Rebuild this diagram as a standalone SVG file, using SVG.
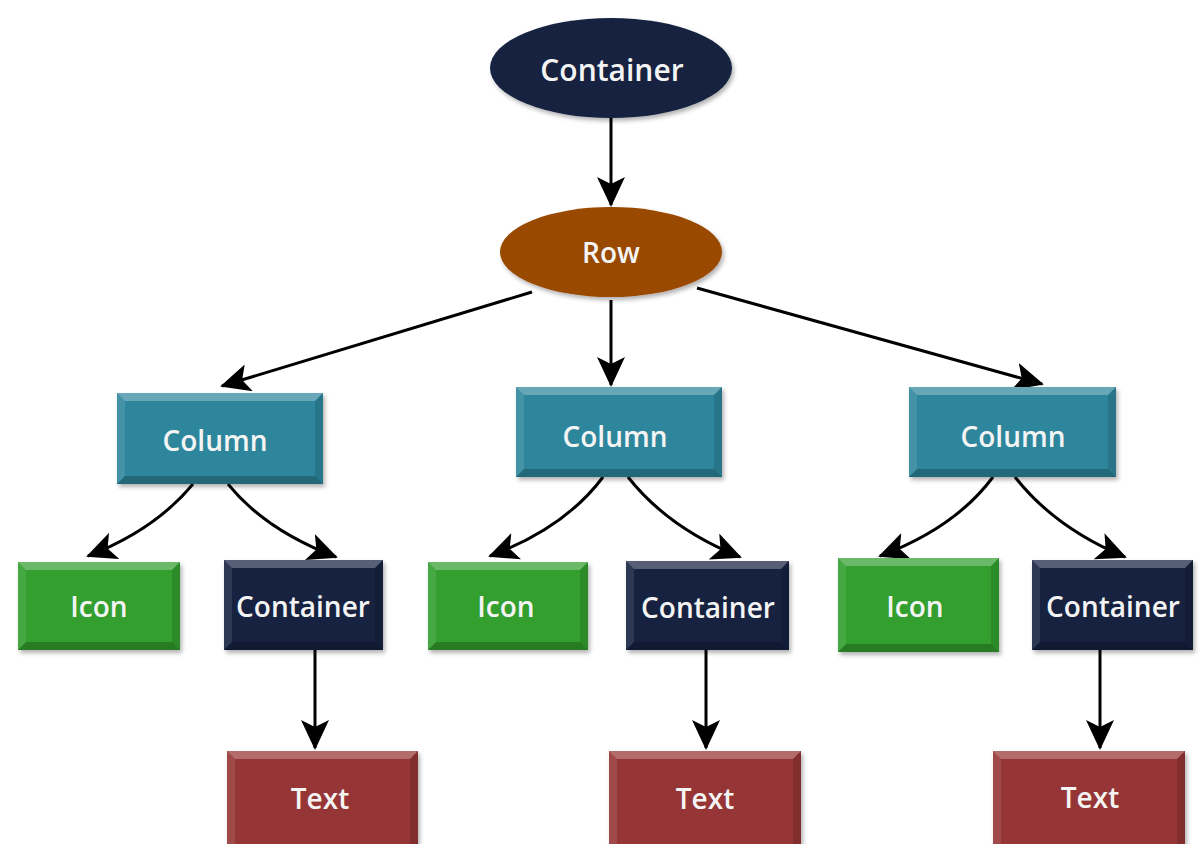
<svg xmlns="http://www.w3.org/2000/svg" width="1199" height="844" viewBox="0 0 1199 844">
<defs>
<style>
.lbl{font-family:"Open Sans","Noto Sans",sans-serif;font-weight:600;fill:#f4f4f4;text-anchor:middle;dominant-baseline:central}
.big{font-size:30px}
.mid{font-size:28px}
.sm{font-size:28px}
.edge{fill:none;stroke:#000;stroke-width:3}
.hi{fill:#ffffff;opacity:.28}
.lo{fill:#000000;opacity:.22}
.sh{fill:#ffffff;opacity:.1}
.dk{fill:#000000;opacity:.12}
</style>
<marker id="ah" viewBox="0 0 30 28" refX="28" refY="14" markerWidth="30" markerHeight="28" markerUnits="userSpaceOnUse" orient="auto">
<path d="M0,0 L30,14 L0,28 L7,14 z" fill="#000"/>
</marker>
<filter id="ds" x="-10%" y="-10%" width="120%" height="130%">
<feDropShadow dx="2" dy="3" stdDeviation="2" flood-color="#000" flood-opacity="0.3"/>
</filter>
</defs>
<rect width="1199" height="844" fill="#ffffff"/>

<g id="connectors">
<path class="edge" d="M611,118 L611,205" marker-end="url(#ah)"/>
<path class="edge" d="M532,292 L222,386" marker-end="url(#ah)"/>
<path class="edge" d="M611,300 L611,385" marker-end="url(#ah)"/>
<path class="edge" d="M697,288 L1042,384" marker-end="url(#ah)"/>
<path class="edge" d="M193,484 Q155,530 88,556" marker-end="url(#ah)"/>
<path class="edge" d="M228,484 Q265,530 336,557" marker-end="url(#ah)"/>
<path class="edge" d="M603,477 Q565,528 490,556" marker-end="url(#ah)"/>
<path class="edge" d="M628,477 Q668,528 740,557" marker-end="url(#ah)"/>
<path class="edge" d="M993,477 Q955,528 880,556" marker-end="url(#ah)"/>
<path class="edge" d="M1015,477 Q1055,528 1125,557" marker-end="url(#ah)"/>
<path class="edge" d="M315,650 L315,748" marker-end="url(#ah)"/>
<path class="edge" d="M706,650 L706,748" marker-end="url(#ah)"/>
<path class="edge" d="M1100,650 L1100,748" marker-end="url(#ah)"/>
</g>

<g id="container-root">
<ellipse cx="611" cy="68" rx="121" ry="50" fill="#13243f" filter="url(#ds)"/>
<text class="lbl big" x="612" y="69">Container</text>
</g>

<g id="row">
<ellipse cx="611" cy="252" rx="111" ry="45" fill="#994806" filter="url(#ds)"/>
<text class="lbl mid" x="611" y="252">Row</text>
</g>

<g id="column-1">
<rect x="117" y="393" width="206" height="91" fill="#2f869c" filter="url(#ds)"/>
<polygon class="hi" points="117,393 323,393 315,401 125,401"/>
<polygon class="lo" points="117,484 323,484 315,476 125,476"/>
<polygon class="sh" points="117,393 125,401 125,476 117,484"/>
<polygon class="dk" points="323,393 315,401 315,476 323,484"/>
<text class="lbl mid" x="215" y="440">Column</text>
</g>
<g id="column-2">
<rect x="516" y="387" width="206" height="90" fill="#2f869c" filter="url(#ds)"/>
<polygon class="hi" points="516,387 722,387 714,395 524,395"/>
<polygon class="lo" points="516,477 722,477 714,469 524,469"/>
<polygon class="sh" points="516,387 524,395 524,469 516,477"/>
<polygon class="dk" points="722,387 714,395 714,469 722,477"/>
<text class="lbl mid" x="615" y="436">Column</text>
</g>
<g id="column-3">
<rect x="909" y="387" width="207" height="90" fill="#2f869c" filter="url(#ds)"/>
<polygon class="hi" points="909,387 1116,387 1108,395 917,395"/>
<polygon class="lo" points="909,477 1116,477 1108,469 917,469"/>
<polygon class="sh" points="909,387 917,395 917,469 909,477"/>
<polygon class="dk" points="1116,387 1108,395 1108,469 1116,477"/>
<text class="lbl mid" x="1013" y="436">Column</text>
</g>

<g id="icon-1">
<rect x="18" y="562" width="162" height="88" fill="#339f2e" filter="url(#ds)"/>
<polygon class="hi" points="18,562 180,562 172,570 26,570"/>
<polygon class="lo" points="18,650 180,650 172,642 26,642"/>
<polygon class="sh" points="18,562 26,570 26,642 18,650"/>
<polygon class="dk" points="180,562 172,570 172,642 180,650"/>
<text class="lbl mid" x="99" y="606">Icon</text>
</g>
<g id="container-1">
<rect x="224" y="560" width="159" height="90" fill="#13243f" filter="url(#ds)"/>
<polygon class="hi" points="224,560 383,560 375,568 232,568"/>
<polygon class="lo" points="224,650 383,650 375,642 232,642"/>
<polygon class="sh" points="224,560 232,568 232,642 224,650"/>
<polygon class="dk" points="383,560 375,568 375,642 383,650"/>
<text class="lbl sm" x="303" y="606">Container</text>
</g>
<g id="icon-2">
<rect x="428" y="562" width="160" height="88" fill="#339f2e" filter="url(#ds)"/>
<polygon class="hi" points="428,562 588,562 580,570 436,570"/>
<polygon class="lo" points="428,650 588,650 580,642 436,642"/>
<polygon class="sh" points="428,562 436,570 436,642 428,650"/>
<polygon class="dk" points="588,562 580,570 580,642 588,650"/>
<text class="lbl mid" x="506" y="606">Icon</text>
</g>
<g id="container-2">
<rect x="626" y="561" width="163" height="89" fill="#13243f" filter="url(#ds)"/>
<polygon class="hi" points="626,561 789,561 781,569 634,569"/>
<polygon class="lo" points="626,650 789,650 781,642 634,642"/>
<polygon class="sh" points="626,561 634,569 634,642 626,650"/>
<polygon class="dk" points="789,561 781,569 781,642 789,650"/>
<text class="lbl sm" x="708" y="607">Container</text>
</g>
<g id="icon-3">
<rect x="838" y="558" width="161" height="94" fill="#339f2e" filter="url(#ds)"/>
<polygon class="hi" points="838,558 999,558 991,566 846,566"/>
<polygon class="lo" points="838,652 999,652 991,644 846,644"/>
<polygon class="sh" points="838,558 846,566 846,644 838,652"/>
<polygon class="dk" points="999,558 991,566 991,644 999,652"/>
<text class="lbl mid" x="915" y="606">Icon</text>
</g>
<g id="container-3">
<rect x="1032" y="560" width="161" height="90" fill="#13243f" filter="url(#ds)"/>
<polygon class="hi" points="1032,560 1193,560 1185,568 1040,568"/>
<polygon class="lo" points="1032,650 1193,650 1185,642 1040,642"/>
<polygon class="sh" points="1032,560 1040,568 1040,642 1032,650"/>
<polygon class="dk" points="1193,560 1185,568 1185,642 1193,650"/>
<text class="lbl sm" x="1113" y="606">Container</text>
</g>

<g id="text-1">
<rect x="227" y="751" width="191" height="100" fill="#963634" filter="url(#ds)"/>
<polygon class="hi" points="227,751 418,751 410,759 235,759"/>
<polygon class="sh" points="227,751 235,759 235,851 227,851"/>
<polygon class="dk" points="418,751 410,759 410,851 418,851"/>
<text class="lbl mid" x="320" y="798">Text</text>
</g>
<g id="text-2">
<rect x="609" y="751" width="192" height="100" fill="#963634" filter="url(#ds)"/>
<polygon class="hi" points="609,751 801,751 793,759 617,759"/>
<polygon class="sh" points="609,751 617,759 617,851 609,851"/>
<polygon class="dk" points="801,751 793,759 793,851 801,851"/>
<text class="lbl mid" x="705" y="798">Text</text>
</g>
<g id="text-3">
<rect x="993" y="751" width="192" height="100" fill="#963634" filter="url(#ds)"/>
<polygon class="hi" points="993,751 1185,751 1177,759 1001,759"/>
<polygon class="sh" points="993,751 1001,759 1001,851 993,851"/>
<polygon class="dk" points="1185,751 1177,759 1177,851 1185,851"/>
<text class="lbl mid" x="1090" y="797">Text</text>
</g>
</svg>
